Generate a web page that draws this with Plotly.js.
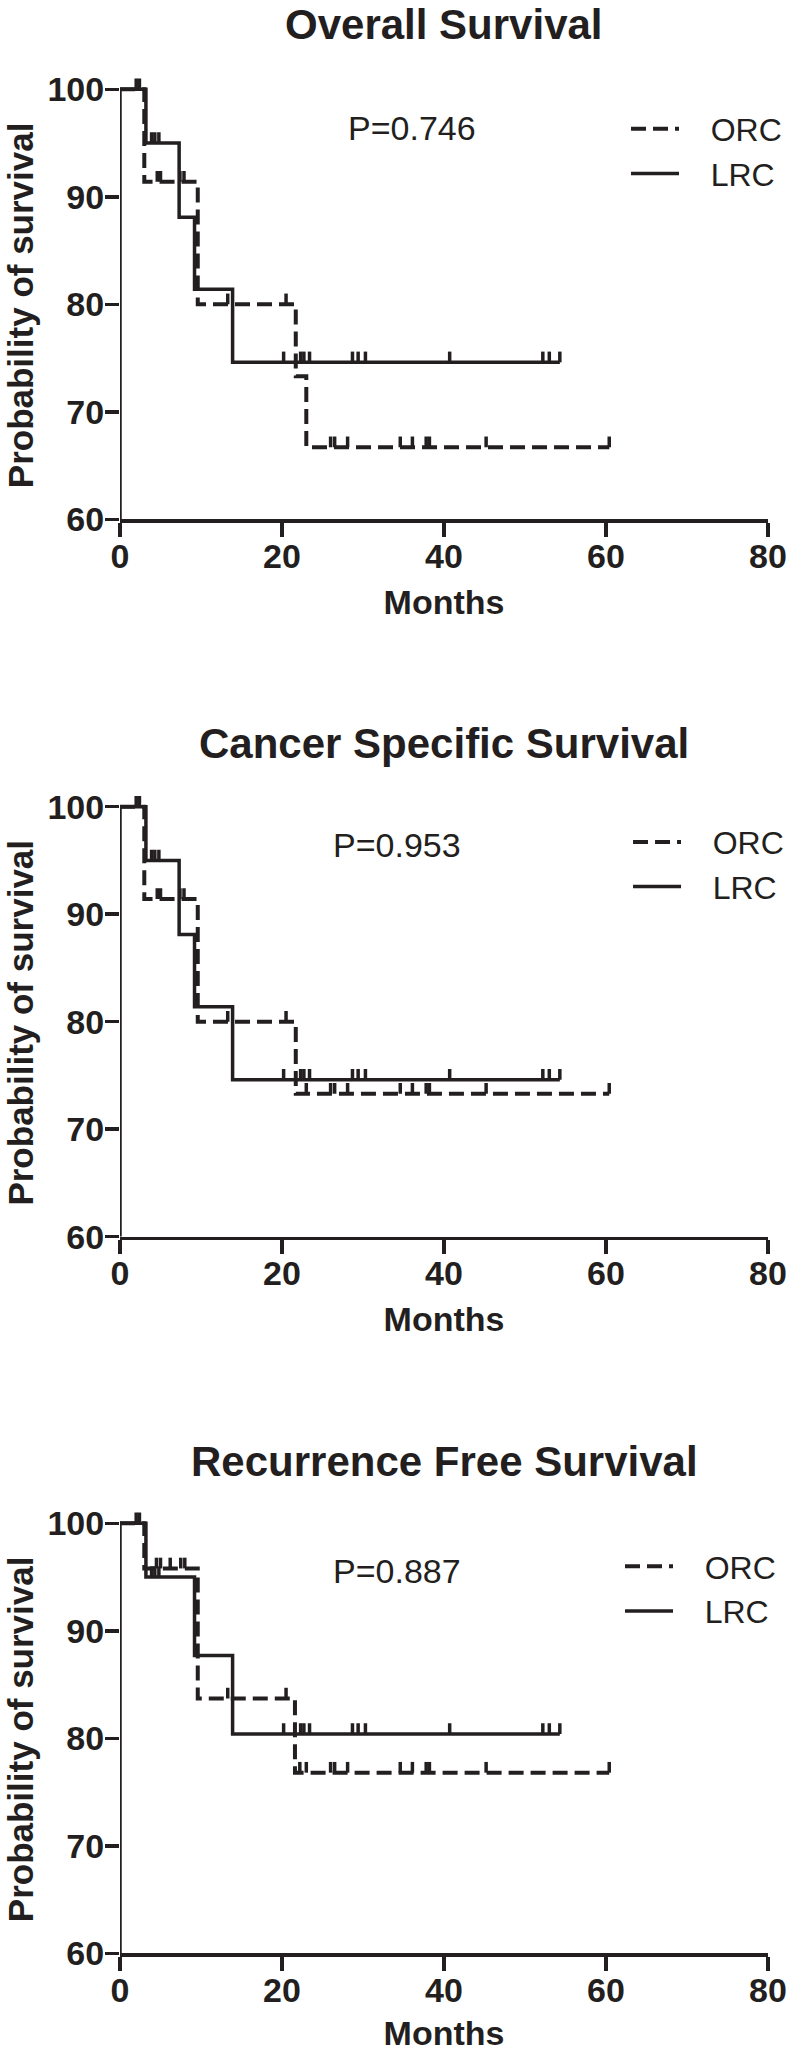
<!DOCTYPE html>
<html>
<head>
<meta charset="utf-8">
<script src="https://cdn.plot.ly/plotly-3.0.1.min.js"></script>
<style>
  html, body { margin: 0; padding: 0; background: #ffffff; }
  #chart { width: 789px; height: 2052px; }
</style>
</head>
<body>
<div id="chart"></div>
<script>
// ---------------- DATA ----------------
const panelTitles = ["Overall Survival", "Cancer Specific Survival", "Recurrence Free Survival"];
const pValues = ["P=0.746", "P=0.953", "P=0.887"];
const seriesNames = ["ORC", "LRC"];
const xTicks = [0, 20, 40, 60, 80];
const yTicks = [60, 70, 80, 90, 100];
const xTitle = "Months";
const yTitle = "Probability of survival";

// Overall Survival
const osOrcTime = [0, 3.0, 9.6, 21.7, 23.0, 60.4];
const osOrcSurv = [100, 91.4, 80.0, 73.3, 66.7, 66.7];
const osOrcCensTime = [2.0, 2.4, 4.6, 5.0, 7.4, 7.9, 13.3, 20.5, 26.0, 26.5, 28.1, 34.6, 36.1, 37.8, 38.2, 45.2, 60.4];
const osOrcCensSurv = [100, 100, 91.4, 91.4, 91.4, 91.4, 80.0, 80.0, 66.7, 66.7, 66.7, 66.7, 66.7, 66.7, 66.7, 66.7, 66.7];
const osLrcTime = [0, 3.2, 7.3, 9.2, 13.9, 54.3];
const osLrcSurv = [100, 95.0, 88.1, 81.4, 74.6, 74.6];
const osLrcCensTime = [3.9, 4.3, 4.8, 20.2, 22.3, 22.7, 23.4, 28.7, 29.4, 30.3, 40.7, 52.2, 53.0, 54.3];
const osLrcCensSurv = [95.0, 95.0, 95.0, 74.6, 74.6, 74.6, 74.6, 74.6, 74.6, 74.6, 74.6, 74.6, 74.6, 74.6];

// Cancer Specific Survival
const cssOrcTime = [0, 3.0, 9.6, 21.7, 60.4];
const cssOrcSurv = [100, 91.4, 80.0, 73.3, 73.3];
const cssOrcCensTime = [2.0, 2.4, 4.6, 5.0, 7.4, 7.9, 13.3, 20.5, 23.0, 26.0, 26.5, 28.1, 34.6, 36.1, 37.8, 38.2, 45.2, 60.4];
const cssOrcCensSurv = [100, 100, 91.4, 91.4, 91.4, 91.4, 80.0, 80.0, 73.3, 73.3, 73.3, 73.3, 73.3, 73.3, 73.3, 73.3, 73.3, 73.3];
const cssLrcTime = [0, 3.2, 7.3, 9.2, 13.9, 54.3];
const cssLrcSurv = [100, 95.0, 88.1, 81.4, 74.6, 74.6];
const cssLrcCensTime = [3.9, 4.3, 4.8, 20.2, 22.3, 22.7, 23.4, 28.7, 29.4, 30.3, 40.7, 52.2, 53.0, 54.3];
const cssLrcCensSurv = [95.0, 95.0, 95.0, 74.6, 74.6, 74.6, 74.6, 74.6, 74.6, 74.6, 74.6, 74.6, 74.6, 74.6];

// Recurrence Free Survival
const rfsOrcTime = [0, 3.0, 9.6, 21.6, 60.4];
const rfsOrcSurv = [100, 95.8, 83.7, 76.8, 76.8];
const rfsOrcCensTime = [2.0, 2.4, 4.5, 5.0, 6.2, 7.5, 8.0, 13.3, 20.5, 22.2, 23.0, 26.0, 26.5, 28.1, 34.6, 36.1, 37.8, 38.2, 45.2, 60.4];
const rfsOrcCensSurv = [100, 100, 95.8, 95.8, 95.8, 95.8, 95.8, 83.7, 83.7, 76.8, 76.8, 76.8, 76.8, 76.8, 76.8, 76.8, 76.8, 76.8, 76.8, 76.8];
const rfsLrcTime = [0, 3.2, 9.2, 13.9, 54.3];
const rfsLrcSurv = [100, 95.0, 87.7, 80.4, 80.4];
const rfsLrcCensTime = [3.9, 4.3, 4.8, 20.2, 22.3, 22.7, 23.4, 28.7, 29.4, 30.3, 40.7, 52.2, 53.0, 54.3];
const rfsLrcCensSurv = [95.0, 95.0, 95.0, 80.4, 80.4, 80.4, 80.4, 80.4, 80.4, 80.4, 80.4, 80.4, 80.4, 80.4];

// ---------------- STYLE / LAYOUT ----------------
const INK = "#231f20";
const FONT = "Liberation Sans, Arial, sans-serif";
const TICKFONT = "Liberation Sans Narrow, Arial Narrow, Liberation Sans, Arial, sans-serif";
const LW = 3.5;
const NBSP = "\u00a0\u00a0\u00a0";

const panels = [
  {orc: [osOrcTime, osOrcSurv, osOrcCensTime, osOrcCensSurv], lrc: [osLrcTime, osLrcSurv, osLrcCensTime, osLrcCensSurv]},
  {orc: [cssOrcTime, cssOrcSurv, cssOrcCensTime, cssOrcCensSurv], lrc: [cssLrcTime, cssLrcSurv, cssLrcCensTime, cssLrcCensSurv]},
  {orc: [rfsOrcTime, rfsOrcSurv, rfsOrcCensTime, rfsOrcCensSurv], lrc: [rfsLrcTime, rfsLrcSurv, rfsLrcCensTime, rfsLrcCensSurv]}
];

// vertical placement (paper fractions) per panel
const domains = [[0.74693, 0.96330], [0.39732, 0.61370], [0.04810, 0.26447]];
const titleY = [0.98782, 0.63791, 0.28801];
const yTitlePos = [0.85151, 0.50190, 0.15268];
const pPos = [[36.0, 96.4], [34.2, 96.4], [34.2, 95.6]];
const legendPos = [[0.7809, 0.9505], [0.7840, 0.6030], [0.7716, 0.2500]];

const traces = [];
const layout = {
  width: 789, height: 2052,
  margin: {l: 120, r: 21, t: 0, b: 0, autoexpand: false},
  paper_bgcolor: "#ffffff", plot_bgcolor: "#ffffff",
  font: {family: FONT, color: INK},
  showlegend: true,
  annotations: [], shapes: []
};

panels.forEach((p, i) => {
  const n = i === 0 ? "" : String(i + 1);
  const xa = "x" + n, ya = "y" + n;
  const lg = "legend" + n;
  const groups = [["orc", seriesNames[0], "15px,7px", 4], ["lrc", seriesNames[1], "solid", LW]];
  groups.forEach(([key, name, dash, w]) => {
    const [t, s, ct, cs] = p[key];
    traces.push({
      type: "scatter", mode: "lines", x: t, y: s, name: NBSP + name,
      xaxis: xa, yaxis: ya, legend: lg, showlegend: true,
      line: {shape: "hv", color: INK, width: w, dash: dash},
      hoverinfo: "skip"
    });
    traces.push({
      type: "scatter", mode: "markers", x: ct, y: cs, name: name + " censored",
      xaxis: xa, yaxis: ya, showlegend: false,
      marker: {size: 1, color: "rgba(0,0,0,0)"},
      error_y: {type: "constant", symmetric: false, value: 1.0, valueminus: 0,
                width: 0, thickness: 3.5, color: INK},
      hoverinfo: "skip"
    });
  });

  layout["xaxis" + n] = {
    domain: [0, 1], anchor: ya, range: [0, 80],
    tickmode: "array", tickvals: xTicks, ticktext: xTicks.map(String),
    ticks: "outside", ticklen: 14, tickwidth: LW, tickcolor: INK,
    showline: true, linewidth: LW, linecolor: INK,
    showgrid: false, zeroline: false, ticklabelstandoff: -10,
    tickfont: {family: TICKFONT, size: 34, weight: 700, color: INK},
    title: {text: xTitle, font: {family: FONT, size: 34, weight: 700, color: INK}, standoff: 17}
  };
  layout["yaxis" + n] = {
    domain: domains[i], anchor: xa, range: [60, 101.3],
    tickmode: "array", tickvals: yTicks, ticktext: yTicks.map(String),
    ticks: "outside", ticklen: 14, tickwidth: LW, tickcolor: INK,
    showline: false, showgrid: false, zeroline: false, ticklabelstandoff: -6,
    tickfont: {family: TICKFONT, size: 34, weight: 700, color: INK}
  };
  // y axis line spanning 60..100 only
  layout.shapes.push({
    type: "line", xref: xa, yref: ya, x0: 0, x1: 0, y0: yTicks[0], y1: yTicks[yTicks.length - 1],
    line: {color: INK, width: LW}, layer: "above"
  });
  layout[lg] = {
    x: legendPos[i][0], y: legendPos[i][1], xanchor: "left", yanchor: "top",
    bgcolor: "rgba(0,0,0,0)", borderwidth: 0,
    font: {family: FONT, size: 32, color: INK},
    itemwidth: 48, tracegroupgap: 0
  };
  layout.annotations.push({
    xref: "paper", yref: "paper", x: 0.5, y: titleY[i], xanchor: "center", yanchor: "middle",
    text: panelTitles[i], showarrow: false,
    font: {family: FONT, size: 42, weight: 700, color: INK}
  });
  layout.annotations.push({
    xref: "paper", yref: "paper", x: -0.18519, y: yTitlePos[i], xanchor: "left", yanchor: "middle",
    text: yTitle, textangle: -90, showarrow: false, borderpad: 0,
    font: {family: FONT, size: 35, weight: 700, color: INK}
  });
  layout.annotations.push({
    xref: xa, yref: ya, x: pPos[i][0], y: pPos[i][1], xanchor: "center", yanchor: "middle",
    text: pValues[i], showarrow: false,
    font: {family: FONT, size: 34, color: INK}
  });
});

Plotly.newPlot("chart", traces, layout, {staticPlot: true, displayModeBar: false});
</script>
</body>
</html>
